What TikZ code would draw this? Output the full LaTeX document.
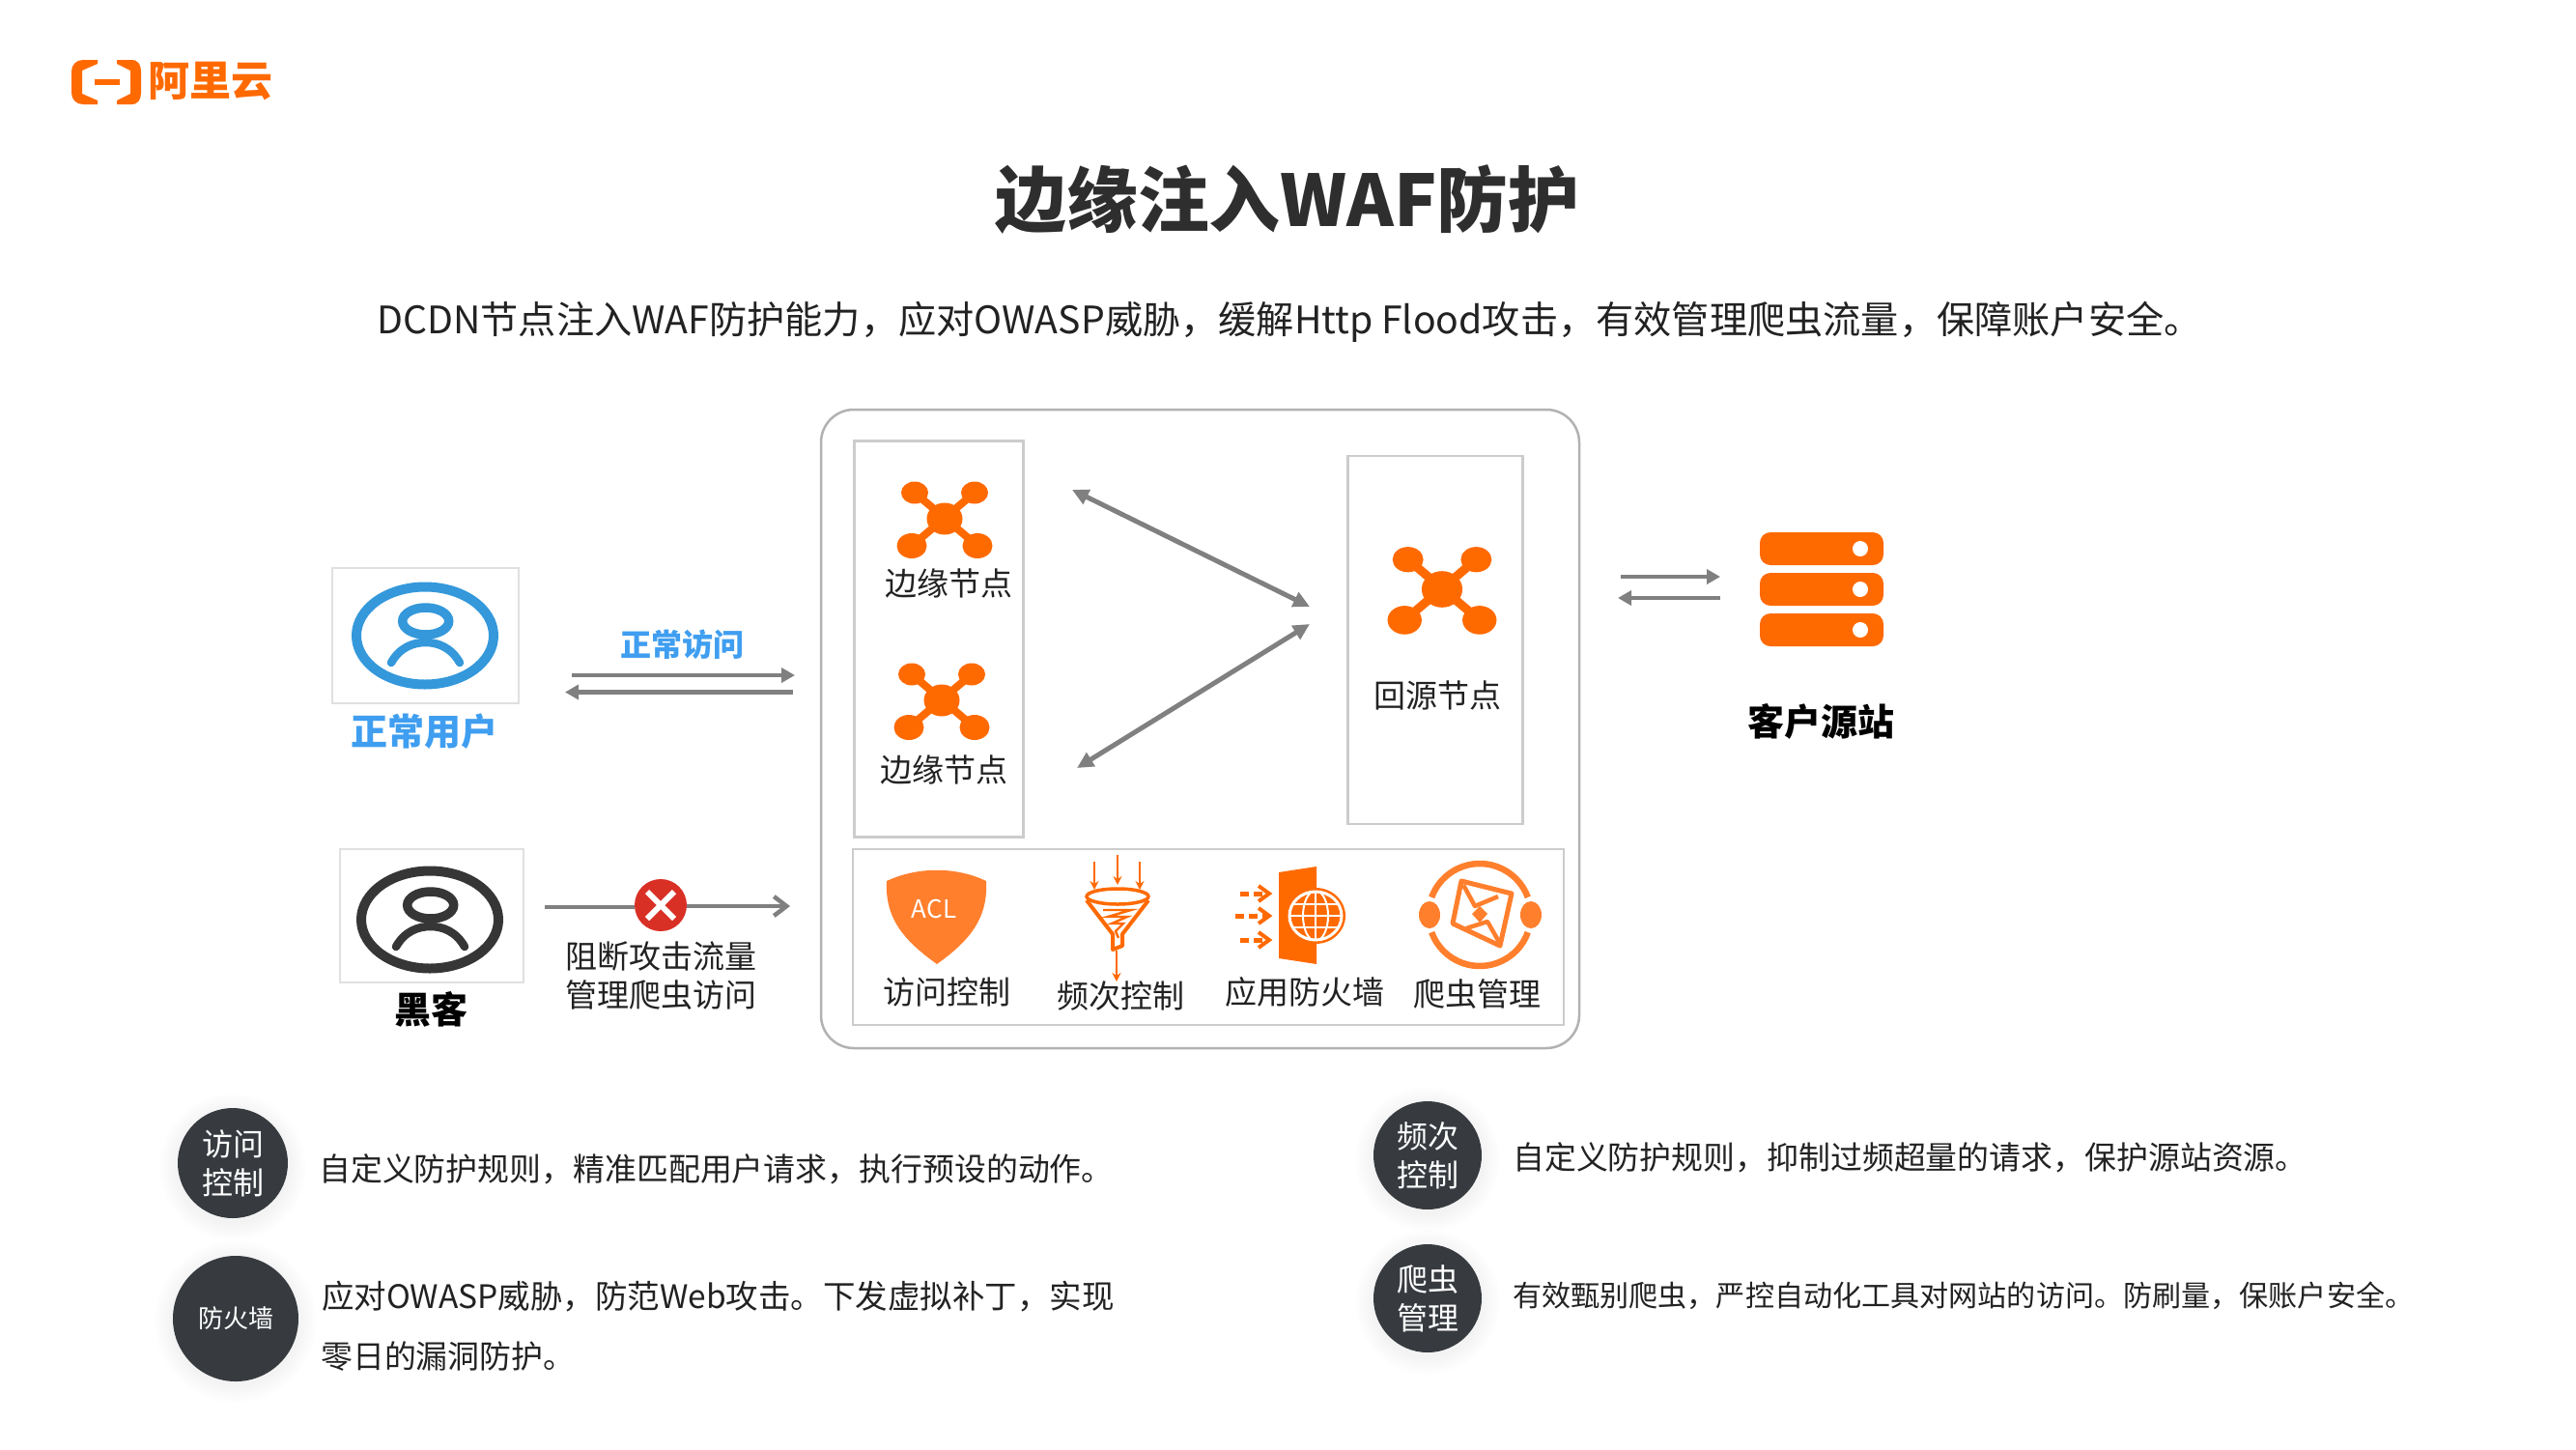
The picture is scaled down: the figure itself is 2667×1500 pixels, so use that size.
\documentclass[tikz,border=0pt]{standalone}
\usepackage{fontspec}
\setmainfont{Noto Sans CJK SC}
\usetikzlibrary{arrows.meta}
\definecolor{orng}{HTML}{FF6A00}
\definecolor{shld}{HTML}{FF7F2D}
\definecolor{arrgray}{HTML}{808080}
\definecolor{blu}{HTML}{3498DB}
\definecolor{blutxt}{HTML}{3F9EF0}
\definecolor{dark}{HTML}{373B40}
\definecolor{usrdark}{HTML}{363636}
\definecolor{txt}{HTML}{222222}
\definecolor{crossred}{HTML}{D93026}
\newcommand{\fs}[1]{\fontsize{#1}{#1}\selectfont}
\newcommand{\clusterIcon}[3]{%
  \begin{scope}[shift={(#1,#2)},scale=#3]
    \draw[orng,line width=#3*8pt] (-31,-27)--(34,28) (31,-27)--(-34,28);
    \fill[orng] (0,0) ellipse [x radius=18.5,y radius=16.5];
    \fill[orng] (-31,-27) ellipse [x radius=14,y radius=11.5];
    \fill[orng] (31,-27) ellipse [x radius=14,y radius=11.5];
    \fill[orng] (-34,28) ellipse [x radius=15.5,y radius=13];
    \fill[orng] (34,28) ellipse [x radius=15.5,y radius=13];
  \end{scope}}
\newcommand{\userIcon}[3]{%
  \begin{scope}[shift={(#1,#2)}]
    \draw[#3,line width=10pt] (0,0) ellipse [x radius=71,y radius=50.5];
    \draw[#3,line width=9.5pt] (0.7,-15) ellipse [x radius=24,y radius=14];
    \draw[#3,line width=8.5pt,line cap=round] (-35,28) .. controls (-26,12) and (-12,7) .. (0.7,7) .. controls (13,7) and (27,12) .. (36,28);
  \end{scope}}
\tikzset{
  lbl/.style={inner sep=0pt,text=txt,font=\fs{33}},
  boldlbl/.style={inner sep=0pt,font=\fs{38}\bfseries},
  innerbox/.style={draw=black!20,line width=2.2pt,fill=white,inner sep=0pt},
  userbox/.style={draw=black!12,line width=2pt,fill=white,inner sep=0pt},
  garrow/.style={draw=arrgray,line width=4.5pt,-{Triangle[length=14pt,width=15pt]}},
  darrow/.style={draw=arrgray,line width=5pt,{Triangle[length=17pt,width=16pt]}-{Triangle[length=17pt,width=16pt]}},
  badge/.style={circle,fill=dark,text=white,inner sep=0pt,align=center},
  desc/.style={inner sep=0pt,anchor=west,text=txt},
  oline/.style={draw=orng,line width=2.8pt,-{Stealth[length=9pt,width=9pt]}},
}
\newcommand{\softshadow}[3]{%
  \foreach \k in {1,...,12}{\fill[black,opacity=0.005] (#1,#2+4) circle [radius=#3+1.6*\k];}}
\begin{document}
\begin{tikzpicture}[x=1pt,y=-1pt]
\useasboundingbox (0,0) rectangle (2667,1500);
\fill[white] (0,0) rectangle (2667,1500);

% logo
\fill[orng] (101,62) -- (86,62) .. controls (79,62) and (74,67) .. (74,74) -- (74,96) .. controls (74,103) and (79,108) .. (86,108) -- (101,108) -- (101,104) -- (85,97) -- (85,73) -- (101,66) -- cycle;
\fill[orng] (121,62) -- (136,62) .. controls (143,62) and (146,67) .. (146,74) -- (146,96) .. controls (146,103) and (143,108) .. (136,108) -- (121,108) -- (121,104) -- (135,97) -- (135,73) -- (121,66) -- cycle;
\fill[orng] (98,82) rectangle (124,88);
\node[inner sep=0pt,text=orng,font=\fs{43}\bfseries] (logo) at (218,84) {阿里云};

% title
\node[inner sep=0pt,text=black!82,font=\fs{73.8}\bfseries] (title) at (1333,207) {边缘注入WAF防护};
\node[inner sep=0pt,text=txt,font=\fs{39.2}] (subtitle) at (1335,333) {DCDN节点注入WAF防护能力，应对OWASP威胁，缓解Http Flood攻击，有效管理爬虫流量，保障账户安全。};

% main frame
\node[draw=black!30,line width=2.5pt,rounded corners=34pt,minimum width=785pt,minimum height=661pt,inner sep=0pt,fill=white] (frame) at (1242.5,754.5) {};
\node[innerbox,minimum width=175pt,minimum height=410pt] (edgebox) at (972,661.5) {};
\node[innerbox,minimum width=181pt,minimum height=381pt] (originbox) at (1486,662.5) {};
\node[innerbox,minimum width=736pt,minimum height=182pt] (toolbox) at (1251,970) {};

% cluster icons
\clusterIcon{978}{537}{1}
\clusterIcon{975}{725}{1}
\clusterIcon{1493}{610}{1.14}
\node[lbl] (edgeA) at (982,604) {边缘节点};
\node[lbl] (edgeB) at (977,797) {边缘节点};
\node[lbl] (originlbl) at (1488,720) {回源节点};

% arrows in frame
\coordinate (a1) at (1110,507);
\coordinate (a2) at (1356,628);
\coordinate (b1) at (1115,795);
\coordinate (b2) at (1356,646);
\draw[darrow] (a1) -- (a2);
\draw[darrow] (b1) -- (b2);

% shield
\fill[shld] (918,912) .. controls (950,897) and (990,897) .. (1021,912) .. controls (1023,950) and (1005,973) .. (970,998) .. controls (935,973) and (916,950) .. (918,912) -- cycle;
\node[inner sep=0pt,text=white,font=\fs{26}] (acl) at (967,941) {ACL};
\node[lbl] (l1) at (980,1027) {访问控制};

% funnel
\coordinate (f1s) at (1133,892); \coordinate (f1e) at (1133,921);
\coordinate (f2s) at (1157,885); \coordinate (f2e) at (1157,916);
\coordinate (f3s) at (1180,892); \coordinate (f3e) at (1180,921);
\coordinate (f4s) at (1156,984); \coordinate (f4e) at (1156,1016);
\draw[oline] (f1s) -- (f1e);
\draw[oline] (f2s) -- (f2e);
\draw[oline] (f3s) -- (f3e);
\draw[oline] (f4s) -- (f4e);
\draw[orng,line width=4pt,line join=round] (1125,932) -- (1152,967) -- (1152,983) -- (1162,979) -- (1162,967) -- (1189,932);
\draw[orng,line width=3.5pt,fill=white] (1157,928) ellipse [x radius=32,y radius=8];
\draw[orng,line width=2.4pt] (1142,942) -- (1171,942) -- (1147,949) -- (1167,949) -- (1151,956) -- (1163,956) -- (1155,964) -- (1158,971);
\node[lbl] (l2) at (1160,1031) {频次控制};

% firewall
\fill[orng] (1324,903) -- (1363,897) -- (1363,998) -- (1324,992) -- cycle;
\fill[orng] (1362,948) ellipse [x radius=31,y radius=29];
\draw[white,line width=3pt] (1362,948) ellipse [x radius=27,y radius=25];
\begin{scope}
  \clip (1362,948) ellipse [x radius=26,y radius=24];
  \draw[white,line width=2pt] (1336,948) -- (1389,948) (1336,936) -- (1389,936) (1336,960) -- (1389,960)
     (1362,920) -- (1362,976);
  \draw[white,line width=2pt] (1362,948) ellipse [x radius=13,y radius=26];
\end{scope}
\coordinate (d1s) at (1284,925); \coordinate (d1e) at (1312,925);
\coordinate (d2s) at (1279,948); \coordinate (d2e) at (1312,948);
\coordinate (d3s) at (1284,973); \coordinate (d3e) at (1312,973);
\foreach \p/\q in {d1s/d1e,d2s/d2e,d3s/d3e}{
  \draw[orng,line width=5pt,dash pattern=on 9pt off 5pt] (\p) -- (\q);
  \draw[orng,line width=4pt] ([shift={(-9,-8)}]\q) -- ([shift={(2,0)}]\q) -- ([shift={(-9,8)}]\q);
}
\node[lbl] (l3) at (1351,1027) {应用防火墙};

% crawler
\draw[shld,line width=6.5pt] (1532,947) ++(200:53) arc [start angle=200,end angle=340,radius=53];
\draw[shld,line width=6.5pt] (1532,947) ++(20:53) arc [start angle=20,end angle=160,radius=53];
\fill[shld] (1480,947) ellipse [x radius=11,y radius=14];
\fill[shld] (1585,947) ellipse [x radius=11,y radius=14];
\draw[shld,line width=5pt,line join=round] (1513,912) -- (1565,925) -- (1553,979) -- (1504,956) -- cycle;
\draw[shld,line width=4.5pt,line join=round] (1515,916) -- (1527,938) -- (1551,928) (1552,975) -- (1540,954) -- (1518,961);
\fill[shld] (1532,938) -- (1540,946) -- (1532,955) -- (1524,946) -- cycle;
\node[lbl] (l4) at (1529,1029) {爬虫管理};

% normal user
\node[userbox,minimum width=193pt,minimum height=140pt] (userbx) at (440,657.5) {};
\userIcon{440}{658}{blu}
\node[boldlbl,text=blutxt] (userlbl) at (439,757) {正常用户};
\node[inner sep=0pt,text=blutxt,font=\fs{32}\bfseries] (normlbl) at (706,667) {正常访问};
\coordinate (n1s) at (592,699); \coordinate (n1e) at (823,699);
\coordinate (n2s) at (821,716.5); \coordinate (n2e) at (585,716.5);
\draw[garrow] (n1s) -- (n1e);
\draw[garrow] (n2s) -- (n2e);

% hacker
\node[userbox,minimum width=190pt,minimum height=138pt] (hackbx) at (446.5,947.5) {};
\userIcon{445}{952}{usrdark}
\node[boldlbl,text=black] (hacklbl) at (446,1045) {黑客};
\node[circle,fill=crossred,inner sep=0pt,minimum size=54pt] (block) at (684,937) {};
\draw[white,line width=6pt] (670,923) -- (698,951) (698,923) -- (670,951);
\coordinate (hs) at (564,939); \coordinate (he) at (818,938);
\draw[draw=arrgray,line width=4.5pt] (hs) -- (block.west |- hs);
\draw[draw=arrgray,line width=4.5pt,-{Straight Barb[length=13pt,width=20pt]}] (block.east |- he) -- (he);
\node[lbl] (blk1) at (684,990) {阻断攻击流量};
\node[lbl] (blk2) at (684,1030) {管理爬虫访问};

% origin
\coordinate (o1s) at (1678,597); \coordinate (o1e) at (1781,597);
\coordinate (o2s) at (1781,619); \coordinate (o2e) at (1675,619);
\draw[garrow] (o1s) -- (o1e);
\draw[garrow] (o2s) -- (o2e);
\foreach \yy in {551,593,635}{
  \fill[orng,rounded corners=11pt] (1822,\yy) rectangle (1950,\yy+34);
  \fill[white] (1926,\yy+17) circle [radius=8];
}
\node[boldlbl,text=black] (srv) at (1885,747) {客户源站};

% badges
\softshadow{241}{1204}{57}
\softshadow{244}{1364}{65}
\softshadow{1478}{1196}{56}
\softshadow{1478}{1344}{56}
\node[badge,minimum size=114pt,font=\fs{32}] (b1) at (241,1204) {访问\\[8pt]控制};
\node[badge,minimum size=130pt,font=\fs{26}] (b2) at (244,1365) {防火墙};
\node[badge,minimum size=112pt,font=\fs{32}] (b3) at (1478,1196) {频次\\[8pt]控制};
\node[badge,minimum size=112pt,font=\fs{32}] (b4) at (1478,1344) {爬虫\\[8pt]管理};

\node[desc,font=\fs{32.9}] (t1) at (330,1210) {自定义防护规则，精准匹配用户请求，执行预设的动作。};
\node[desc,font=\fs{33.5}] (t2) at (333,1342) {应对OWASP威胁，防范Web攻击。下发虚拟补丁，实现};
\node[desc,font=\fs{32.9}] (t3) at (332,1404) {零日的漏洞防护。};
\node[desc,font=\fs{32.9}] (t4) at (1566,1198) {自定义防护规则，抑制过频超量的请求，保护源站资源。};
\node[desc,font=\fs{30.1}] (t5) at (1566,1341) {有效甄别爬虫，严控自动化工具对网站的访问。防刷量，保账户安全。};
\end{tikzpicture}
\end{document}
